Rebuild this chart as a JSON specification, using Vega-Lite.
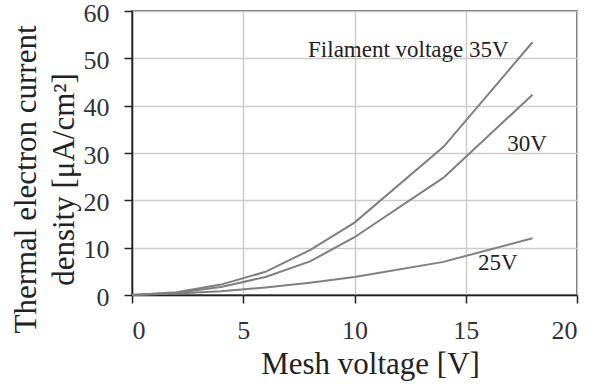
{
  "$schema": "https://vega.github.io/schema/vega-lite/v6.json",
  "autosize": "none",
  "width": 445,
  "height": 284,
  "padding": {"left": 132, "top": 11, "right": 26, "bottom": 90},
  "background": "white",
  "config": {
    "view": {"stroke": "#333333", "strokeWidth": 1.5},
    "font": "Liberation Serif",
    "axis": {
      "labelFont": "Liberation Serif",
      "titleFont": "Liberation Serif",
      "labelFontSize": 26,
      "titleFontSize": 31,
      "titleFontWeight": "normal",
      "labelColor": "#333333",
      "titleColor": "#222222",
      "domainColor": "#222222",
      "domainWidth": 1.5,
      "tickColor": "#222222",
      "tickWidth": 1.5,
      "tickSize": 8,
      "gridColor": "#cccccc",
      "gridWidth": 1.5
    }
  },
  "datasets": {
    "curves": [
      {"mesh": 0, "j": 0, "series": "35V"},
      {"mesh": 2, "j": 0.6, "series": "35V"},
      {"mesh": 4, "j": 2.2, "series": "35V"},
      {"mesh": 6, "j": 4.9, "series": "35V"},
      {"mesh": 8, "j": 9.5, "series": "35V"},
      {"mesh": 10, "j": 15.3, "series": "35V"},
      {"mesh": 14, "j": 31.3, "series": "35V"},
      {"mesh": 18, "j": 53.4, "series": "35V"},
      {"mesh": 0, "j": 0, "series": "30V"},
      {"mesh": 2, "j": 0.5, "series": "30V"},
      {"mesh": 4, "j": 1.7, "series": "30V"},
      {"mesh": 6, "j": 3.8, "series": "30V"},
      {"mesh": 8, "j": 7.1, "series": "30V"},
      {"mesh": 10, "j": 12.2, "series": "30V"},
      {"mesh": 14, "j": 24.8, "series": "30V"},
      {"mesh": 18, "j": 42.3, "series": "30V"},
      {"mesh": 0, "j": 0, "series": "25V"},
      {"mesh": 2, "j": 0.3, "series": "25V"},
      {"mesh": 4, "j": 0.8, "series": "25V"},
      {"mesh": 6, "j": 1.6, "series": "25V"},
      {"mesh": 8, "j": 2.6, "series": "25V"},
      {"mesh": 10, "j": 3.8, "series": "25V"},
      {"mesh": 14, "j": 7.0, "series": "25V"},
      {"mesh": 18, "j": 12.0, "series": "25V"}
    ],
    "labels": [
      {"mesh": 12.42, "j": 51.8, "text": "Filament voltage 35V"},
      {"mesh": 17.75, "j": 31.9, "text": "30V"},
      {"mesh": 16.44, "j": 6.7, "text": "25V"}
    ]
  },
  "layer": [
    {
      "data": {"name": "curves"},
      "mark": {"type": "line", "color": "#7f7f7f", "strokeWidth": 2},
      "encoding": {
        "x": {
          "field": "mesh", "type": "quantitative",
          "scale": {"domain": [0, 20], "nice": false},
          "axis": {
            "values": [0, 5, 10, 15, 20],
            "title": "Mesh voltage [V]",
            "labelBaseline": "alphabetic",
            "labelPadding": 35,
            "titleX": 238,
            "titleY": 78,
            "titleBaseline": "alphabetic"
          }
        },
        "y": {
          "field": "j", "type": "quantitative",
          "scale": {"domain": [0, 60], "nice": false},
          "axis": {
            "values": [0, 10, 20, 30, 40, 50, 60],
            "title": ["Thermal electron current", "density [μA/cm²]"],
            "labelPadding": 15,
            "labelOffset": 2,
            "titleAngle": -90,
            "titleAlign": "center",
            "titleBaseline": "middle",
            "titleLineHeight": 38,
            "titleX": -106,
            "titleY": 168
          }
        },
        "detail": {"field": "series"}
      }
    },
    {
      "data": {"name": "labels"},
      "mark": {"type": "text", "font": "Liberation Serif", "fontSize": 23, "color": "#222222", "align": "center", "baseline": "middle"},
      "encoding": {
        "x": {"field": "mesh", "type": "quantitative"},
        "y": {"field": "j", "type": "quantitative"},
        "text": {"field": "text"}
      }
    }
  ]
}
